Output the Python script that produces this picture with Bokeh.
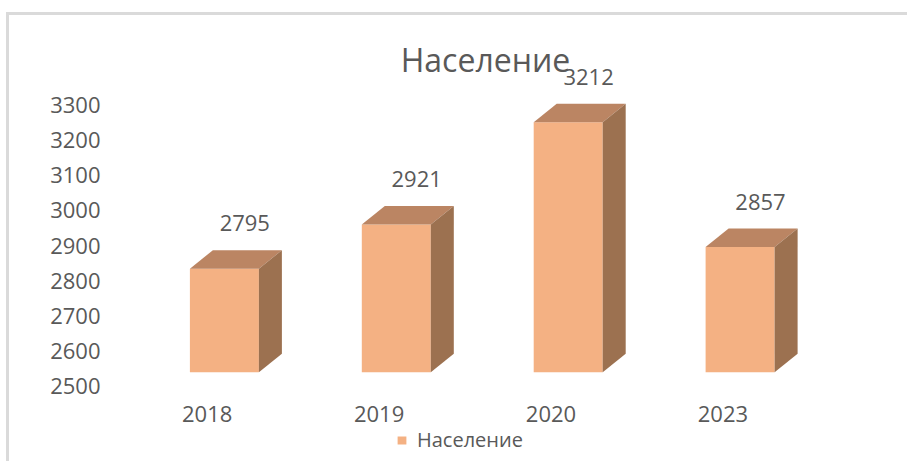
from bokeh.plotting import figure
from bokeh.layouts import column
from bokeh.models import Range1d, FixedTicker, Label, Legend, LegendItem, ColumnDataSource
from bokeh.core.properties import value
from bokeh.embed import file_html
from bokeh.resources import INLINE

# ---- data ----
categories = ["2018", "2019", "2020", "2023"]
population = [2795, 2921, 3212, 2857]
y_ticks = [2500, 2600, 2700, 2800, 2900, 3000, 3100, 3200, 3300]
title_text = "Население"
series_name = "Население"

# ---- geometry constants (px -> data units) ----
PX_PER_X = 171.9
PX_PER_Y = 0.35125
BASE = 2500
LIFT = 39                      # front face lifted (3D perspective)
F_LEFT = -17.3 / PX_PER_X      # front face left relative to category tick
F_WIDTH = 69.0 / PX_PER_X
DX = 23.0 / PX_PER_X           # depth in x
DY = 18.5 / PX_PER_Y           # depth in y
LBL_DX = 37.6 / PX_PER_X
LBL_DY = 168

FONT = "Open Sans"
TXT = "#595959"
FRONT = "#F4B183"
TOP = "#BB8563"
SIDE = "#9C7150"
BORDER = "#dadada"

xs = list(range(len(categories)))

p = figure(width=907, height=426, output_backend="svg", toolbar_location=None,
           x_range=Range1d(-0.5625, 4.0215), y_range=Range1d(2473.0, 3540.6),
           min_border_left=110, min_border_right=9, min_border_top=20, min_border_bottom=31)
p.outline_line_color = None
p.background_fill_color = None
p.border_fill_color = None
p.xgrid.visible = False
p.ygrid.visible = False

# front faces
left = [x + F_LEFT for x in xs]
right = [x + F_LEFT + F_WIDTH for x in xs]
front_src = ColumnDataSource(dict(left=left, right=right,
                                  bottom=[BASE + LIFT] * len(xs),
                                  top=[v + LIFT for v in population]))
p.quad(left="left", right="right", bottom="bottom", top="top", source=front_src,
       fill_color=FRONT, line_color=None)

# top and side faces
top_xs, top_ys, side_xs, side_ys = [], [], [], []
for l, r, v in zip(left, right, population):
    t = v + LIFT
    top_xs.append([l, r, r + DX, l + DX])
    top_ys.append([t, t, t + DY, t + DY])
    side_xs.append([r, r, r + DX, r + DX])
    side_ys.append([BASE + LIFT, t, t + DY, BASE + LIFT + DY])
p.patches(top_xs, top_ys, fill_color=TOP, line_color=None)
p.patches(side_xs, side_ys, fill_color=SIDE, line_color=None)

# data labels
p.text(x=[x + LBL_DX for x in xs], y=[v + LBL_DY for v in population],
       text=[str(v) for v in population], text_align="center", text_baseline="middle",
       text_font=value(FONT), text_font_size="22px", text_color=TXT)

# title
p.add_layout(Label(x=(485 - 206.7) / PX_PER_X, y=3429.5, text=title_text,
                   text_align="center", text_baseline="middle",
                   text_font=FONT, text_font_size="32px", text_color=TXT))

# axes
p.yaxis.ticker = FixedTicker(ticks=y_ticks)
p.xaxis.ticker = FixedTicker(ticks=xs)
p.xaxis.major_label_overrides = {i: c for i, c in enumerate(categories)}
for ax in (p.xaxis[0], p.yaxis[0]):
    ax.axis_line_color = None
    ax.major_tick_line_color = None
    ax.minor_tick_line_color = None
    ax.major_tick_out = 0
    ax.major_tick_in = 0
    ax.minor_tick_out = 0
    ax.major_label_text_font = FONT
    ax.major_label_text_font_size = "22px"
    ax.major_label_text_color = TXT
p.yaxis.major_label_standoff = 10
p.xaxis.major_label_standoff = 10

# legend in a separate strip below
lf = figure(width=907, height=35, output_backend="svg", toolbar_location=None,
            x_range=Range1d(0, 1), y_range=Range1d(0, 1), min_border=0)
lf.axis.visible = False
lf.xgrid.visible = False
lf.ygrid.visible = False
lf.outline_line_color = None
lf.background_fill_color = None
lf.border_fill_color = None
leg_r = lf.quad(left="left", right="right", bottom="bottom", top="top", source=front_src,
                fill_color=FRONT, line_color=None)
legend = Legend(items=[LegendItem(label=series_name, renderers=[leg_r])],
                location=(286, 8), orientation="horizontal",
                label_text_font=FONT, label_text_font_size="20px", label_text_color=TXT,
                glyph_width=11, glyph_height=10, label_standoff=10, label_height=20,
                padding=0, margin=0, border_line_color=None, background_fill_alpha=0)
lf.add_layout(legend)

layout = column(p, lf, spacing=0)
layout.styles = {
    "background": (f"linear-gradient({BORDER}, {BORDER}) 6px 12px / 903px 3px no-repeat, "
                   f"linear-gradient({BORDER}, {BORDER}) 6px 12px / 3px 460px no-repeat, white"),
}
open("out.html", "w").write(file_html(layout, INLINE))
